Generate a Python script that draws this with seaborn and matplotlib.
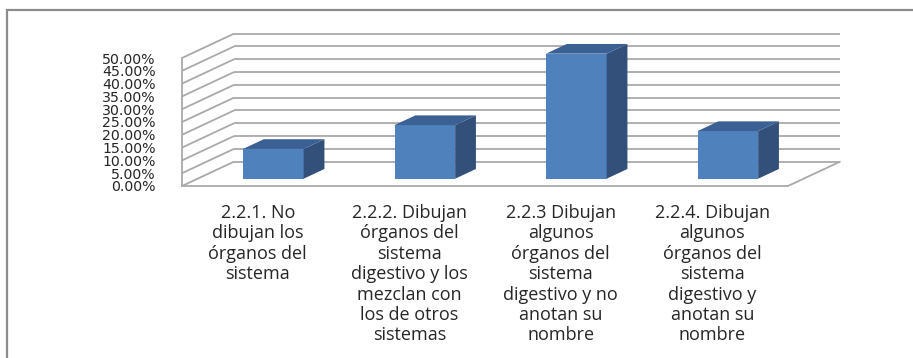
import matplotlib
matplotlib.use("Agg")
import matplotlib.pyplot as plt
import matplotlib.transforms as mtransforms
from matplotlib.patches import Polygon, Rectangle
import pandas as pd
import seaborn as sns

# Datos del gráfico
categorias = [
    "2.2.1. No\ndibujan los\nórganos del\nsistema",
    "2.2.2. Dibujan\nórganos del\nsistema\ndigestivo y los\nmezclan con\nlos de otros\nsistemas",
    "2.2.3 Dibujan\nalgunos\nórganos del\nsistema\ndigestivo y no\nanotan su\nnombre",
    "2.2.4. Dibujan\nalgunos\nórganos del\nsistema\ndigestivo y\nanotan su\nnombre",
]
porcentajes = [11.63, 20.93, 48.84, 18.60]
marcas_y = [0, 5, 10, 15, 20, 25, 30, 35, 40, 45, 50]
etiquetas_y = ["0.00%", "5.00%", "10.00%", "15.00%", "20.00%", "25.00%",
               "30.00%", "35.00%", "40.00%", "45.00%", "50.00%"]

# Estilo
FRENTE = "#4F81BD"
LATERAL = "#33507A"
TAPA = "#3A6094"
REJILLA = "#A9A9A9"
TEXTO = "#262626"

# Vector de profundidad (en unidades de datos) para la vista oblicua
PROF_X = 0.343
PROF_Y = 9.5
Z0, Z1 = 0.3, 0.7   # profundidad de la cara frontal y trasera de cada barra

sns.set_style("white")
plt.rcParams["font.family"] = ["DejaVu Sans"]

W, H = 913, 358
fig = plt.figure(figsize=(W / 100, H / 100), dpi=100)
ax = fig.add_axes([182 / W, 1 - 186 / H, (845 - 182) / W, (186 - 25) / H])

df = pd.DataFrame({"categoria": categorias, "porcentaje": porcentajes})
sns.barplot(data=df, x="categoria", y="porcentaje", color=FRENTE,
            saturation=1, width=0.4, linewidth=0, ax=ax, zorder=3)

x_ini, x_fin = -0.5, len(categorias) - 0.5
ax.set_xlim(x_ini, x_ini + (845 - 182) / 151.5)
ax.set_ylim(0, (186 - 25) / 2.56)

# Paredes: líneas de la pared lateral y de la pared del fondo
for v in marcas_y:
    ax.plot([x_ini, x_ini + PROF_X], [v, v + PROF_Y], color=REJILLA,
            lw=1.3, zorder=1, solid_capstyle="butt")
    ax.plot([x_ini + PROF_X, x_fin + PROF_X], [v + PROF_Y, v + PROF_Y],
            color=REJILLA, lw=1.3, zorder=1, solid_capstyle="butt")
# Borde derecho del suelo
ax.plot([x_fin, x_fin + PROF_X], [0, PROF_Y], color=REJILLA, lw=1.3, zorder=1)

# Barras en perspectiva: cara frontal desplazada, lateral y tapa
desplaz = mtransforms.Affine2D().translate(Z0 * PROF_X, Z0 * PROF_Y) + ax.transData
dz = Z1 - Z0
for p in ax.patches:
    p.set_transform(desplaz)
    x0 = p.get_x()
    x1 = x0 + p.get_width()
    h = p.get_height()
    lado = [(x1, 0), (x1, h), (x1 + dz * PROF_X, h + dz * PROF_Y),
            (x1 + dz * PROF_X, dz * PROF_Y)]
    tapa = [(x0, h), (x1, h), (x1 + dz * PROF_X, h + dz * PROF_Y),
            (x0 + dz * PROF_X, h + dz * PROF_Y)]
    ax.add_patch(Polygon(lado, closed=True, facecolor=LATERAL, edgecolor="none",
                         transform=desplaz, zorder=3))
    ax.add_patch(Polygon(tapa, closed=True, facecolor=TAPA, edgecolor="none",
                         transform=desplaz, zorder=3))

# Ejes
for s in ["top", "right"]:
    ax.spines[s].set_visible(False)
ax.spines["left"].set_bounds(0, 50)
ax.spines["bottom"].set_bounds(x_ini, x_fin)
for s in ["left", "bottom"]:
    ax.spines[s].set_color(REJILLA)
    ax.spines[s].set_linewidth(1.3)

ax.set_yticks(marcas_y)
ax.set_yticklabels(etiquetas_y, fontsize=10.2, color=TEXTO)
ax.tick_params(axis="y", length=3, width=1, color=REJILLA, pad=16)

ax.set_xticks(range(len(categorias)))
ax.set_xticklabels(categorias, fontsize=13, color=TEXTO,
                   family=["Open Sans", "DejaVu Sans"], linespacing=1.17)
ax.set_xticks([x_ini + i for i in range(len(categorias) + 1)], minor=True)
ax.tick_params(axis="x", which="major", length=0, pad=13)
ax.tick_params(axis="x", which="minor", length=4, width=1, color=REJILLA)
ax.set_xlabel("")
ax.set_ylabel("")

# Marco del área del gráfico
fig.add_artist(Rectangle((7 / W, -0.1), 1.2, (H - 10) / H + 0.1,
                         transform=fig.transFigure, fill=False,
                         edgecolor="#8C8C8C", linewidth=1.6))

fig.savefig("out.png", dpi=100)
